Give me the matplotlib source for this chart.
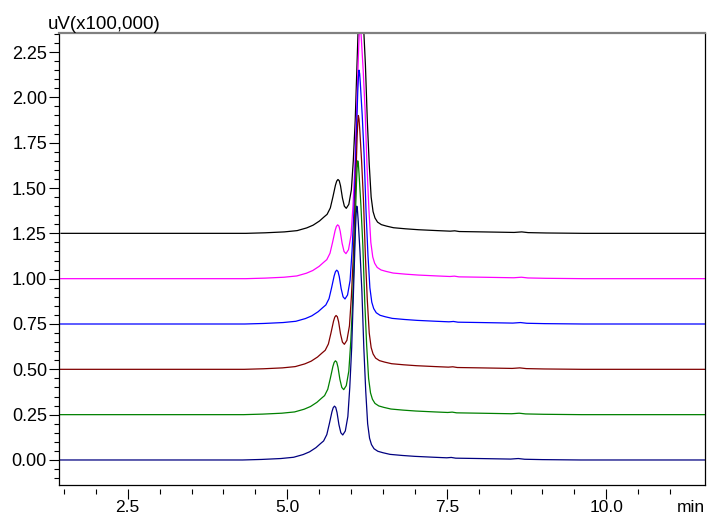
import numpy as np
import matplotlib.pyplot as plt
from matplotlib.ticker import MultipleLocator, FixedLocator

plt.rcParams['font.family'] = ['Liberation Sans', 'DejaVu Sans']

# detector signal of the first run (x100,000 uV) vs retention time (min)
ret_time = [1.40, 4.30, 4.60, 4.90, 5.10, 5.25, 5.35, 5.45, 5.52, 5.57,
            5.62, 5.66, 5.70, 5.72, 5.74, 5.76, 5.78, 5.81, 5.84, 5.87,
            5.91, 5.95, 5.98, 6.01, 6.04, 6.07, 6.08, 6.09, 6.10, 6.11,
            6.14, 6.17, 6.20, 6.23, 6.26, 6.29, 6.32, 6.36, 6.42, 6.50,
            6.61, 6.80, 7.00, 7.30, 7.50, 7.57, 7.64, 8.00, 8.50, 8.62,
            8.72, 9.00, 9.60, 11.60]
signal = [0.000, 0.000, 0.003, 0.008, 0.015, 0.030, 0.045, 0.068, 0.090, 0.105,
          0.140, 0.200, 0.265, 0.288, 0.297, 0.290, 0.262, 0.195, 0.150, 0.138,
          0.160, 0.240, 0.400, 0.620, 0.950, 1.280, 1.360, 1.400, 1.380, 1.330,
          1.150, 0.930, 0.620, 0.380, 0.200, 0.120, 0.085, 0.062, 0.048, 0.040,
          0.031, 0.025, 0.020, 0.015, 0.012, 0.014, 0.010, 0.008, 0.005, 0.008,
          0.004, 0.002, 0.000, 0.000]

# six injections, stacked
offsets = [0.0, 0.25, 0.50, 0.75, 1.00, 1.25]
rt_shift = [0.0, 0.015, 0.025, 0.035, 0.05, 0.055]
colors = ['#000080', '#008000', '#800000', '#0000ff', '#ff00ff', '#000000']

fig = plt.figure(figsize=(7.08, 5.17), dpi=100)
ax = fig.add_axes([58.8 / 708, 1 - 485 / 517, (705.2 - 58.8) / 708, (485 - 33) / 517])

t = np.array(ret_time)
s = np.array(signal)
# top trace first so the bottom one ends up on top
for off, dt, c in reversed(list(zip(offsets, rt_shift, colors))):
    ax.plot(t + dt, s + off, color=c, lw=0.9)

ax.set_xlim(1.42, 11.55)
ax.set_ylim(-0.138, 2.355)

ax.xaxis.set_major_locator(FixedLocator([2.5, 5.0, 7.5, 10.0]))
ax.xaxis.set_minor_locator(FixedLocator(np.arange(1.5, 11.01, 0.5)))
ax.yaxis.set_major_locator(MultipleLocator(0.25))
ax.yaxis.set_minor_locator(MultipleLocator(0.05))
ax.xaxis.set_major_formatter(plt.FormatStrFormatter('%.1f'))
ax.yaxis.set_major_formatter(plt.FormatStrFormatter('%.2f'))

ax.tick_params(axis='both', which='both', direction='out', width=0.8, color='black')
ax.tick_params(axis='y', labelsize=13)
ax.tick_params(axis='x', labelsize=12.5)
ax.tick_params(axis='x', which='major', length=7, pad=0.5)
ax.tick_params(axis='x', which='minor', length=3.8)
ax.tick_params(axis='y', which='major', length=7, pad=1.5)
ax.tick_params(axis='y', which='minor', length=3.8)

# x ticks hang a little below the frame
ax.spines['bottom'].set_position(('outward', 3))
ax.spines['bottom'].set_visible(False)
ax.plot([0, 1], [0, 0], transform=ax.transAxes, color='black', lw=0.9, clip_on=False)
ax.spines['top'].set_color('#808080')
ax.spines['top'].set_linewidth(1.6)
ax.spines['left'].set_linewidth(0.9)
ax.spines['right'].set_linewidth(0.9)

fig.text(48 / 708, 1 - 29 / 517, 'uV(x100,000)', fontsize=13.5, va='baseline', ha='left')
fig.text(705 / 708, 1 - 512 / 517, 'min', fontsize=12.5, va='baseline', ha='right')

fig.savefig('out.png', dpi=100)
